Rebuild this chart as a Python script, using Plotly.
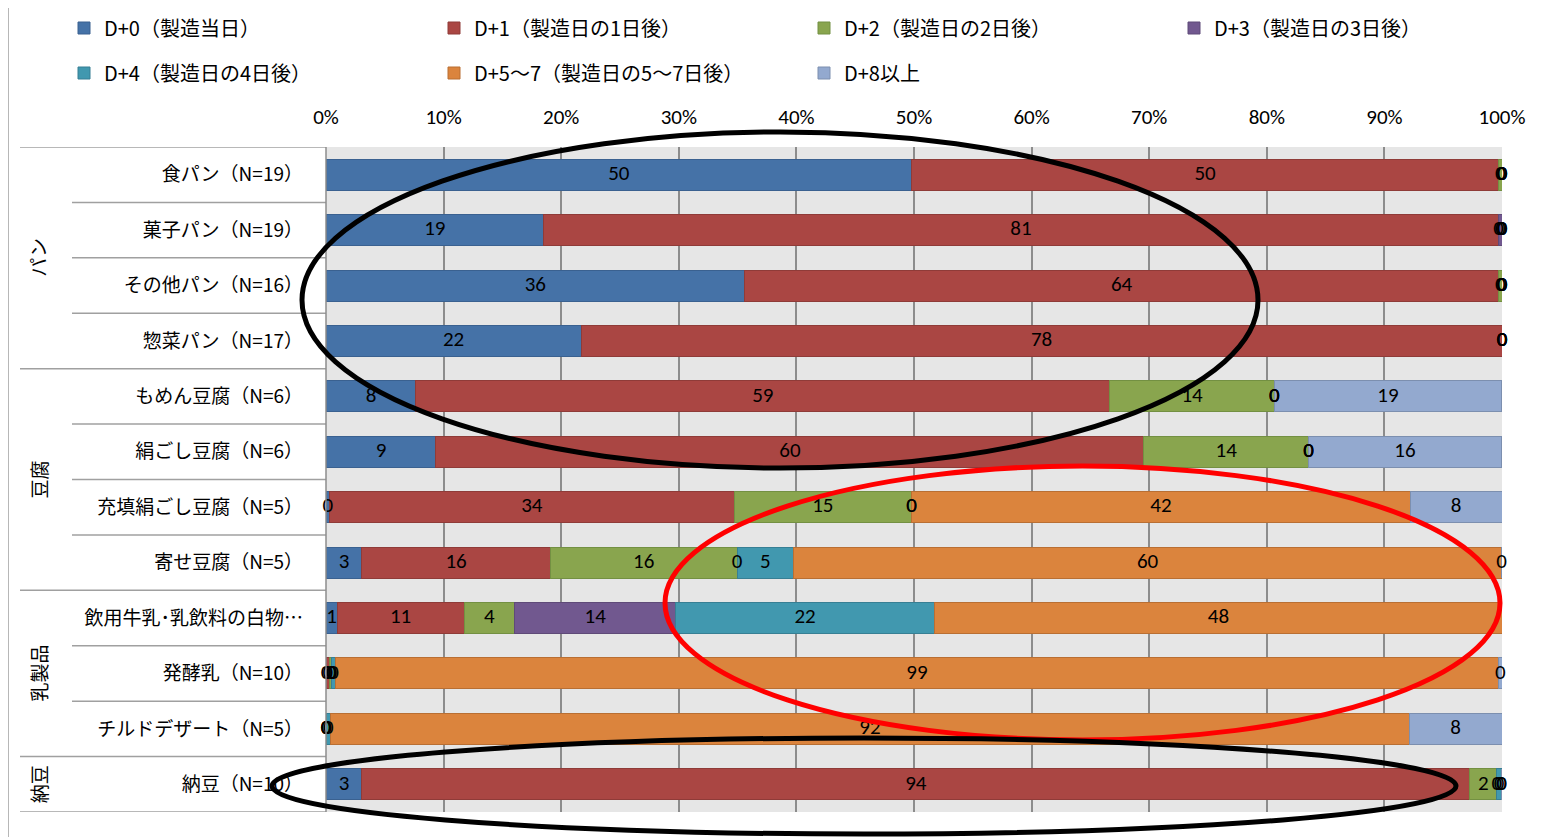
import plotly.graph_objects as go

categories = ["食パン（N=19）", "菓子パン（N=19）", "その他パン（N=16）", "惣菜パン（N=17）",
              "もめん豆腐（N=6）", "絹ごし豆腐（N=6）", "充填絹ごし豆腐（N=5）", "寄せ豆腐（N=5）",
              "飲用牛乳･乳飲料の白物…", "発酵乳（N=10）", "チルドデザート（N=5）", "納豆（N=10）"]
groups = [("パン", 0, 3), ("豆腐", 4, 7), ("乳製品", 8, 10), ("納豆", 11, 11)]

series_names = ["D+0（製造当日）", "D+1（製造日の1日後）", "D+2（製造日の2日後）", "D+3（製造日の3日後）",
                "D+4（製造日の4日後）", "D+5～7（製造日の5～7日後）", "D+8以上"]
colors = ["#4572A7", "#AA4643", "#89A54E", "#71588F", "#4198AF", "#DB843D", "#93A9CF"]
edge_colors = ["#3A6190", "#8F3B38", "#739042", "#5F4A78", "#377F94", "#B96F33", "#7C8FAF"]

d0 = [49.8, 18.5, 35.6, 21.7, 7.65, 9.35, 0.3, 3.06, 0.94, 0.0, 0.0, 3.06]
d1 = [49.9, 81.2, 64.1, 78.3, 59.0, 60.2, 34.4, 16.0, 10.8, 0.3, 0.0, 94.2]
d2 = [0.3, 0.0, 0.3, 0.0, 14.0, 14.0, 15.1, 15.9, 4.3, 0.2, 0.0, 2.3]
d3 = [0.0, 0.3, 0.0, 0.0, 0.0, 0.0, 0.0, 0.0, 13.7, 0.0, 0.0, 0.0]
d4 = [0.0, 0.0, 0.0, 0.0, 0.0, 0.0, 0.0, 4.8, 22.0, 0.3, 0.4, 0.4]
d57 = [0.0, 0.0, 0.0, 0.0, 0.0, 0.0, 42.4, 60.2, 48.3, 98.9, 91.7, 0.0]
d8 = [0.0, 0.0, 0.0, 0.0, 19.3, 16.4, 7.8, 0.0, 0.0, 0.3, 7.9, 0.0]
series_values = [d0, d1, d2, d3, d4, d57, d8]

x_ticks = [0, 10, 20, 30, 40, 50, 60, 70, 80, 90, 100]
x_tick_labels = [f"{v}%" for v in x_ticks]

FONT = "Calibri, Carlito, 'Noto Sans CJK JP', sans-serif"
JFONT = "'Noto Sans CJK JP', sans-serif"

fig = go.Figure()
for i, (name, vals) in enumerate(zip(series_names, series_values)):
    fig.add_trace(go.Bar(
        y=categories, x=vals, name=name, orientation="h",
        marker=dict(color=colors[i], line=dict(color=edge_colors[i], width=1)),
        legend="legend" if i < 4 else "legend2",
        hoverinfo="x+name",
    ))

# data labels centred on each segment (Excel style, shown even for zero values)
lab_x, lab_y, lab_v = [], [], []
cum = [0.0] * len(categories)
for vals in series_values:
    for j, v in enumerate(vals):
        lab_x.append(cum[j] + v / 2)
        lab_y.append(categories[j])
        lab_v.append(v)
        cum[j] += v
fig.add_trace(go.Scatter(
    x=lab_x, y=lab_y, mode="text", customdata=lab_v,
    texttemplate="%{customdata:.0f}", textposition="middle center",
    textfont=dict(family=FONT, size=21, color="black"),
    showlegend=False, hoverinfo="skip", cliponaxis=False,
))

# page geometry (the html body adds an 8px offset)
OFF = 8
FW, FH = 1547, 837
L, R, T, B = 326, 1502, 147, 812
W, H = R - L, B - T
def px(x):
    return (x - L) / W
def py(y):
    return (B - y) / H

shapes = []
group_bounds = set()
for _, a, b in groups:
    group_bounds.add(a - 0.5)
    group_bounds.add(b + 0.5)
for k in range(len(categories) + 1):
    yb = k - 0.5
    x0 = px(20) if yb in group_bounds else px(72)
    shapes.append(dict(type="line", xref="paper", yref="y", x0=x0, x1=0, y0=yb, y1=yb,
                       line=dict(color="#A0A0A0", width=1.5)))
shapes.append(dict(type="line", xref="paper", yref="paper", x0=0, x1=0, y0=0, y1=1,
                   line=dict(color="#8C8C8C", width=1.5)))
shapes.append(dict(type="rect", xref="paper", yref="paper", x0=px(8), x1=px(1570), y0=py(860), y1=py(7),
                   line=dict(color="#A0A0A0", width=1.5), layer="below"))
# hand-drawn highlight ellipses
shapes.append(dict(type="circle", xref="paper", yref="paper", x0=px(302), x1=px(1258), y0=py(468), y1=py(132),
                   line=dict(color="black", width=5)))
shapes.append(dict(type="circle", xref="paper", yref="paper", x0=px(665), x1=px(1500), y0=py(740), y1=py(466),
                   line=dict(color="#FF0000", width=5)))
shapes.append(dict(type="circle", xref="paper", yref="paper", x0=px(272), x1=px(1456), y0=py(834), y1=py(738),
                   line=dict(color="black", width=5)))

annotations = []
for gname, a, b in groups:
    annotations.append(dict(text=gname, xref="paper", yref="y", x=px(38), y=(a + b) / 2,
                            showarrow=False, textangle=-90, xanchor="center", yanchor="middle",
                            font=dict(family=JFONT, size=19, color="black")))

legend_common = dict(orientation="h", xanchor="left", yanchor="middle", traceorder="normal",
                     entrywidth=325, entrywidthmode="pixels", bgcolor="rgba(0,0,0,0)",
                     font=dict(family=JFONT, size=20), itemclick=False, itemdoubleclick=False)

fig.update_layout(
    width=FW, height=FH,
    margin=dict(l=L - OFF, r=FW - (R - OFF), t=T - OFF, b=FH - (B - OFF), pad=0, autoexpand=False),
    barmode="stack", bargap=0.44,
    paper_bgcolor="white", plot_bgcolor="#E6E6E6",
    font=dict(family=JFONT, size=18, color="black"),
    shapes=shapes, annotations=annotations,
    legend=dict(x=px(64), y=py(28), **legend_common),
    legend2=dict(x=px(64), y=py(73), **legend_common),
    xaxis=dict(range=[0, 100], side="top", tickvals=x_ticks, ticktext=x_tick_labels,
               showgrid=True, gridcolor="#8C8C8C", gridwidth=1.5, zeroline=False,
               tickfont=dict(family=FONT, size=21), ticks="", ticklabelstandoff=18,
               fixedrange=True, automargin=False),
    yaxis=dict(categoryorder="array", categoryarray=categories, range=[len(categories) - 0.5, -0.5],
               showgrid=False, ticks="", tickfont=dict(family=JFONT, size=19),
               ticklabelstandoff=22, fixedrange=True, automargin=False),
)

fig.write_html("out.html")
